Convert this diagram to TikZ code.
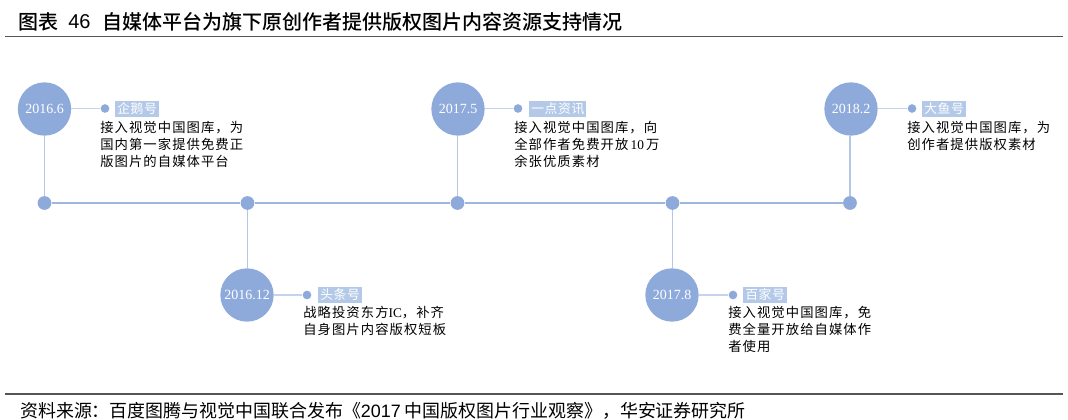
\documentclass[tikz,border=0pt]{standalone}
\usepackage{fontspec}
\setmainfont{Liberation Serif}
\setsansfont{Liberation Sans}
\newfontfamily\cjk[LetterSpace=8]{Noto Sans CJK SC}
\newfontfamily\cjktag[LetterSpace=5]{Noto Sans CJK SC}
\newfontfamily\cjkplain{Noto Sans CJK SC}
\newfontfamily\cjkbold{Noto Sans CJK SC Medium}
\definecolor{dotblue}{HTML}{8EAADB}
\definecolor{linkblue}{HTML}{B4C7E7}
\definecolor{sideblue}{HTML}{C5D4EC}
\definecolor{mainblue}{HTML}{9DB8DE}
\definecolor{tagblue}{HTML}{B4C9E8}
\definecolor{rulegray}{HTML}{555555}
\tikzset{
  x=0.75pt,y=-0.75pt,
  yearnode/.style={circle,fill=dotblue,minimum size=40pt,inner sep=0pt,text=white,font=\fontsize{10.5pt}{12pt}\selectfont},
  smalldot/.style={circle,fill=dotblue,minimum size=6.5pt,inner sep=0pt},
  joint/.style={circle,fill=dotblue,minimum size=10.3pt,inner sep=0pt},
  tagnode/.style={fill=tagblue,text=white,inner xsep=1.5pt,inner ysep=0pt,minimum height=12pt,anchor=west,font=\cjktag\fontsize{9.6pt}{10pt}\selectfont},
  descnode/.style={anchor=north west,inner sep=0pt,align=left,font=\cjk\fontsize{10pt}{12.9pt}\selectfont},
  linkline/.style={draw=linkblue,line width=1pt},
  sideline/.style={draw=sideblue,line width=0.9pt},
  mainline/.style={draw=mainblue,line width=2pt},
  rulebar/.style={draw=rulegray,line width=0.9pt},
}
\begin{document}
\begin{tikzpicture}
\useasboundingbox (0,0) rectangle (1068,420);
% title
\node[anchor=west,inner sep=0pt,font=\cjkbold\fontsize{15pt}{16pt}\selectfont] (title) at (18,22) {图表};
\node[anchor=west,inner sep=0pt,font=\sffamily\fontsize{15pt}{16pt}\selectfont] (num) at (68,22) {46};
\node[anchor=west,inner sep=0pt,font=\cjkbold\fontsize{15pt}{16pt}\selectfont] (titletext) at (102,22) {自媒体平台为旗下原创作者提供版权图片内容资源支持情况};
\coordinate (ruleAl) at (5,36.5); \coordinate (ruleAr) at (1063,36.5);
\draw[rulebar] (ruleAl) -- (ruleAr);
\coordinate (ruleBl) at (5,394); \coordinate (ruleBr) at (1063,394);
\draw[rulebar] (ruleBl) -- (ruleBr);
\node[anchor=west,inner sep=0pt,font=\cjkplain\fontsize{13.45pt}{14pt}\selectfont] (source) at (20,411) {资料来源：百度图腾与视觉中国联合发布《{\sffamily 2017} 中国版权图片行业观察》，华安证券研究所};
% joints
\node[joint] (j1) at (44.5,203) {};
\node[joint] (j2) at (247.5,203) {};
\node[joint] (j3) at (457.5,203) {};
\node[joint] (j4) at (672.5,203) {};
\node[joint] (j5) at (850,203) {};
\draw[mainline] (j1) -- (j2);
\draw[mainline] (j2) -- (j3);
\draw[mainline] (j3) -- (j4);
\draw[mainline] (j4) -- (j5);
% years
\node[yearnode] (y1) at (44.5,109) {2016.6};
\node[yearnode] (y2) at (247,295) {2016.12};
\node[yearnode] (y3) at (458,109) {2017.5};
\node[yearnode] (y4) at (672,295) {2017.8};
\node[yearnode] (y5) at (851,109) {2018.2};
\draw[linkline] (y1.south -| j1) -- (j1);
\draw[linkline] (y2.north -| j2) -- (j2);
\draw[linkline] (y3.south -| j3) -- (j3);
\draw[linkline] (y4.north -| j4) -- (j4);
\draw[linkline] (y5.south -| j5) -- (j5);
% small dots
\node[smalldot] (d1) at (105,108.5) {};
\node[smalldot] (d2) at (307,295) {};
\node[smalldot] (d3) at (518,108.5) {};
\node[smalldot] (d4) at (733,295) {};
\node[smalldot] (d5) at (912,108.5) {};
\draw[sideline] (y1.east |- d1) -- (d1);
\draw[sideline] (y2.east |- d2) -- (d2);
\draw[sideline] (y3.east |- d3) -- (d3);
\draw[sideline] (y4.east |- d4) -- (d4);
\draw[sideline] (y5.east |- d5) -- (d5);
% tags
\node[tagnode] (t1) at (115,109) {企鹅号};
\node[tagnode] (t2) at (318,295) {头条号};
\node[tagnode] (t3) at (529,109) {一点资讯};
\node[tagnode] (t4) at (743,295) {百家号};
\node[tagnode] (t5) at (922,109) {大鱼号};
% descriptions
\node[descnode] (n1) at (100,121) {接入视觉中国图库，为\\国内第一家提供免费正\\版图片的自媒体平台};
\node[descnode] (n2) at (303,306) {战略投资东方{\rmfamily IC}，补齐\\自身图片内容版权短板};
\node[descnode] (n3) at (514,121) {接入视觉中国图库，向\\全部作者免费开放{\rmfamily\,10\,}万\\余张优质素材};
\node[descnode] (n4) at (728,306) {接入视觉中国图库，免\\费全量开放给自媒体作\\者使用};
\node[descnode] (n5) at (907,121) {接入视觉中国图库，为\\创作者提供版权素材};
\end{tikzpicture}
\end{document}
